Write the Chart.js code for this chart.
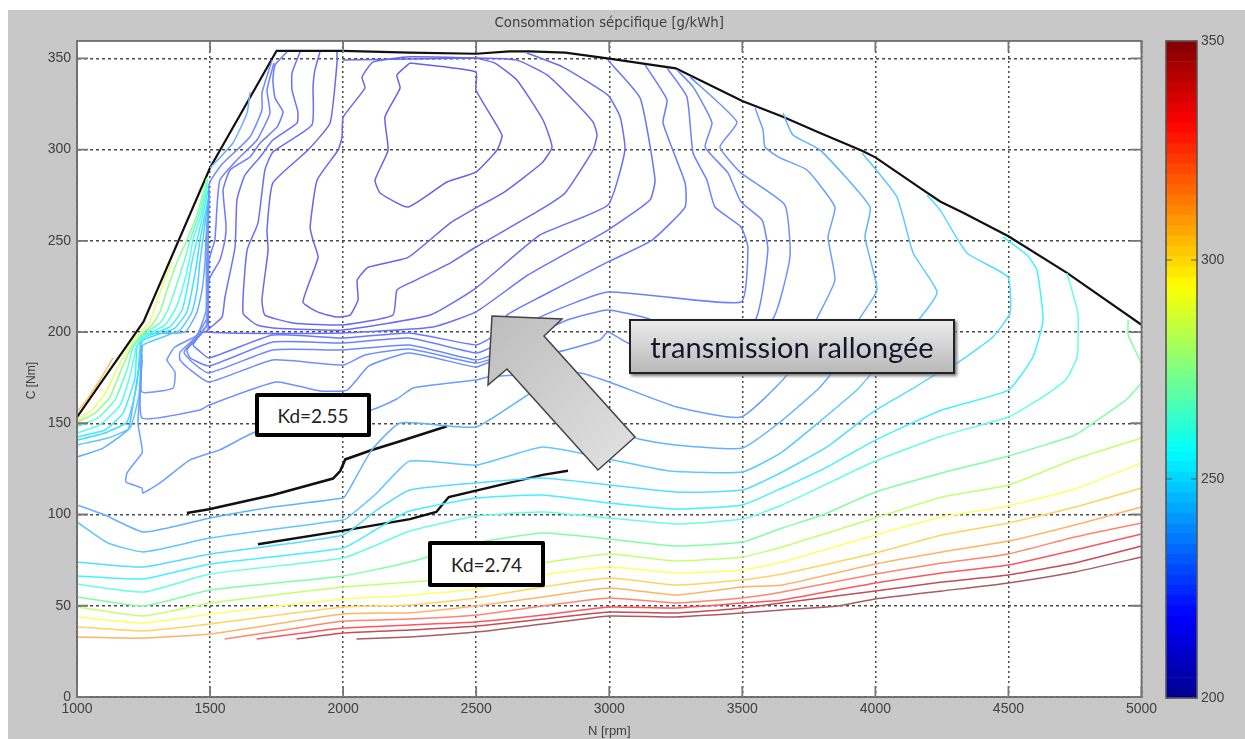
<!DOCTYPE html>
<html><head><meta charset="utf-8">
<style>
html,body{margin:0;padding:0;background:#fff;width:1245px;height:739px;overflow:hidden}
#fig{position:absolute;left:8px;top:10px;width:1237px;height:729px;background:#c8c8c8}
canvas{position:absolute;filter:blur(.4px)}
.kd{position:absolute;box-sizing:border-box;background:#fff;border:4px solid #000;border-radius:2px;font:19px Lato,sans-serif;color:#222;display:flex;align-items:center;justify-content:center}
#tr{position:absolute;left:629px;top:319px;width:326px;height:55px;box-sizing:border-box;border:2px solid #222;background:linear-gradient(#ececec,#b9b9b9);box-shadow:2px 2px 3px #777;font:29px Lato,sans-serif;color:#15152b;display:flex;align-items:center;justify-content:center;white-space:nowrap}
svg{position:absolute;left:0;top:0}
</style></head><body>
<div id="fig"></div>
<canvas id="main" width="1245" height="739" style="left:0;top:0;width:1245px;height:739px"></canvas>
<canvas id="cbar" width="85" height="739" style="left:1160px;top:0;width:85px;height:739px"></canvas>
<svg width="1245" height="739"><defs><linearGradient id="g" x1="0" y1="0" x2="1" y2="1"><stop offset="0" stop-color="#bdbdbd"/><stop offset="1" stop-color="#e2e2e2"/></linearGradient></defs>
<polygon points="492,316 562,319 544,336 635,437 598,470 507,369 488,385" fill="url(#g)" stroke="#444" stroke-width="1.5"/></svg>
<div class="kd" style="left:255px;top:393px;width:116px;height:44px">Kd=2.55</div>
<div class="kd" style="left:428px;top:541px;width:117px;height:46px">Kd=2.74</div>
<div id="tr">transmission rallongée</div>
<script src="https://cdn.jsdelivr.net/npm/chart.js@4"></script>
<script>
const xTicks=[1000,1500,2000,2500,3000,3500,4000,4500,5000];
const yTicks=[0,50,100,150,200,250,300,350];
const cbTicks=[200,250,300,350];

const A_N=[2050,2250,2500,2750,3000,3250,3500,3650,3860,4000,4250,4500,4750,5000];
const A_C=[31.8,32.9,35.6,40,44.4,43.8,46,47.7,49.9,53.7,58.1,62.5,68.5,76.7];
const B_N=[1825,2000,2250,2500,2750,3000,3250,3500,4000,4250,4500,4750,5000];
const B_C=[31.8,35.1,36.7,38.9,42.7,46.6,46,48.8,58.1,63,66.9,73.4,82.7];
const C_N=[1675,1850,2000,2250,2500,2750,3000,3250,3500,3650,4000,4250,4500,4750,5000];
const C_C=[31.8,35.1,37.8,39.5,41.1,44.9,49.3,48.8,51.5,53.2,62.5,68,72.3,80.6,89.3];
const D_N=[1555,1780,2000,2250,2500,2750,3000,3250,3500,3650,4000,4250,4500,4750,5000];
const D_C=[31.8,36.7,41.6,42.7,44.9,49.9,54.3,51.5,54.3,57.5,67.4,73.4,78.4,87.7,95.4];
const E_N=[1000,1170,1250,1500,2000,2250,2500,2750,3000,3250,3500,3650,4000,4250,4500,4750,5000];
const E_C=[32.9,32.3,32.3,34.5,45.5,46.2,49.9,54.8,59.7,55.9,60.3,61.4,72.9,79.5,85.5,94.3,104.1];
const F_N=[1000,1250,1500,2000,2250,2500,2750,3000,3250,3500,3650,4000,4250,4500,4750,5000];
const F_C=[38.4,36.2,40,49.3,50.4,54.3,60.3,65.2,61.4,64.1,67.4,78.9,88.8,95.4,104.1,114.5];
const G_N=[1000,1250,1500,2000,2220,2500,2750,3000,3250,3500,3650,4000,4250,4500,4750,5000];
const G_C=[43.8,40.6,45.5,53.7,55.3,59.2,66.9,71.2,68,69.6,74,88.8,98.6,104.7,114,128.2];
const H_N=[1000,1250,1500,2000,2250,2500,2750,3000,3250,3500,3650,4000,4250,4500,4750,5000];
const H_C=[49.3,44.4,51.5,60.3,63,65.8,73.4,78.4,74.5,76.7,82.2,98.1,109.6,116.2,130.4,141.9];
const I_N=[1000,1250,1500,2000,2250,2500,2750,3000,3250,3500,3650,3800,4000,4250,4500,4750,4845,4942,5000];
const I_C=[54.8,49.9,58.6,66.3,74,84.4,89.9,86.6,82.7,84.9,92.6,99.7,112.3,122.8,132.1,143.6,152.9,162.8,172.1];
const I2_N=[5000,4950,4950];
const I2_C=[183,198.4,206.6];
const J_N=[1000,1250,1500,2000,2125,2250,2500,2750,3000,3250,3500,3650,4000,4250,4500,4592,4667,4720,4758,4761,4720];
const J_C=[61.9,57.5,67.4,76.2,83.3,91,99.2,101.4,98.1,94.8,97.5,105.2,129.3,143,153.4,161,168.2,174.7,186.2,210.3,232.2];
const K_N=[1000,1250,1500,2000,2120,2240,2500,2750,3000,3250,3500,3650,3818,4000,4250,4500,4592,4630,4607,4570,4480];
const K_C=[66.3,64.7,72.9,81.7,91.5,101.4,109,110.7,106.3,103,105.2,114.5,126,140.8,157.3,168.2,186.3,206.6,234,242.2,252.1];
const K2_N=[1000,1250,1500,2000,2127,2250,2500,2750,3000,3250,3500,3650,3818,3991,4130,4224,4307,4442,4506,4498,4344,4243,4194];
const K2_C=[74,71.2,78.4,88.8,102.5,113.4,117.3,120,116.2,112.3,113.4,123.3,137,156.2,168.2,176.5,183,197.3,210.4,230.2,243.3,266.9,275.1];
const L_N=[1000,1116,1250,1500,2000,2015,2127,2250,2500,2750,3014,3228,3500,3650,3931,3980,4168,4232,4142,4081,3950];
const L_C=[95.9,84.4,79.5,87.1,97,98.1,111.8,129.3,127.1,137,129.9,123.8,123.3,134.3,168.2,176.5,207.7,221.9,243.3,274,298.1];
const M_N=[1000,1105,1250,1500,1736,2000,2015,2108,2214,2500,2706,2871,3090,3250,3500,3642,3781,3830,3942,4006,3961,3980,3792,3690,3653];
const M_C=[105.2,99.7,90.4,98.1,104.1,109,111.8,135.4,150.2,148,166.6,176.5,142.5,138.1,136.4,150.7,168.2,176.5,207.7,223,252.1,268.5,299.8,308,320];
const Q_N=[1244,1240,1229,1244,1244,1188,1184,1244,1248,1312,1425,1537,1669,1838,2108,2202,2263,2499,2544,2890,3000,3254,3495,3668,3781,3848,3822,3848,3743,3642,3585,3578,3548];
const Q_C=[192.9,173.7,150.2,137,133.7,122.8,117.8,114.5,111.8,117.3,129.9,135.4,145.2,149.1,157.3,163.3,169.3,173.7,175.4,177.6,172.6,158.9,153.4,176.5,207.7,228.5,252.1,268.5,288.8,295.4,301.4,310.7,322.8];
const R_N=[1244,1244,1462,1496,1748,1913,2015,2097,2248,2499,2552,2804,2965,2995,3070,3341,3612,3679,3660,3495,3416,3480,3303];
const R_C=[187.4,152.9,157.3,160,172.6,167.7,168.2,181.4,188.5,180.8,183.6,189,195.6,200,194,184.7,206.6,241.1,269.6,287.2,301.4,315.1,339.8];
const S_N=[1244,1244,1361,1368,1338,1368,1451,1485,1485,1492,1496];
const S_C=[184.7,167.1,169.3,178.1,184.7,191.8,198.4,212.1,250.4,266.9,276.7];
const T_N=[1496,1492,1488,1443,1387,1387,1417,1496,1736,2000,2082,2248,2499,2570];
const T_C=[277.8,244.9,207.7,196.7,189,184.7,180.3,172.6,184.7,181.9,187.4,190.7,183,185.8];
const P8_N=[1733,1695,1695,1650,1549,1511,1496,1492,1488,1451,1402,1432,1496,1736,2000,2248,2499,2552,2842,2995,3138,3341,3548,3596,3574,3495,3446,3360,3386,3315,3255];
const P8_C=[349,331,321.7,306.9,292.6,285,280.6,239.5,203.9,197.3,189,183.6,177.6,190.2,190.2,192.9,184.7,186.9,206.6,212.1,207.7,198.4,206.6,244.9,261.4,271.3,287.2,301.4,314.6,334.3,343.6];
const P7_N=[1740,1714,1725,1676,1601,1537,1526,1518,1496,1488,1455,1413,1425,1496,1736,2000,2248,2499,2552,2740,2995,3495,3521,3495,3397,3367,3315,3292,3217];
const P7_C=[347.4,332.6,320,305.2,294.3,283.3,268.5,250.4,239.5,203.9,197.3,190.2,185.8,181.4,194.5,194,196.7,188.5,191.3,208.2,221.9,216.5,246.6,257.6,268.5,283.3,298.1,328.8,344.7];
const P6_N=[1789,1744,1736,1744,1774,1752,1688,1650,1575,1549,1560,1556,1537,1496,1492,1470,1436,1455,1496,1736,2000,2248,2499,2552,2616,2740,2995,3161,3285,3285,3202,3217,3135];
const P6_C=[353.5,346.3,338.1,328.2,320.6,312.4,303.6,295.9,288.8,277.8,258.7,250.4,239.5,228.5,201.1,199.5,192.9,190.2,185.8,198.4,196.7,199.5,192.9,196.7,209.3,219.2,238.4,250.4,268.5,281.7,314.6,327.2,346.3];
const P5_N=[1838,1808,1808,1830,1827,1736,1688,1631,1601,1594,1556,1545,1488,2000,2338,2499,2695,2995,3153,3172,3116,2995];
const P5_C=[353.5,342,332.6,320.6,314.6,305.2,295.9,286,272.4,246.6,219.2,208.2,200,199.5,202.8,211,231.3,255.9,272.4,283.3,328.2,349];
const P4_N=[1913,1894,1887,1883,1736,1706,1680,1639,1624,1676,1736,2000,2327,2499,2740,2995,3059,3041,2995,2826,2691];
const P4_C=[353.5,343.6,334.3,313.5,298.6,288.8,259.7,244.9,210.4,203.9,202.2,201.1,209.3,224.1,253.2,269.6,299.7,317.8,329.8,345.2,352.9];
const P3_N=[1977,1977,1951,1868,1736,1714,1718,1695,1706,1812,2000,2187,2202,2251,2402,2499,2740,2834,2939,2954,2939,2853,2766,2653,2499,2000];
const P3_C=[353.5,347.4,314.6,299.7,281.7,255.9,244.9,217.6,209.3,205,203.9,209.3,223,226.9,237.8,246.6,266.9,276.2,299.7,308,315.1,328.8,340.9,349,350.2,349];
const P2_N=[2499,2570,2653,2751,2785,2747,2601,2499,2402,2244,2094,2053,2056,2026,1977,1906,1849,1906,1887,1876,1902,1981,1996,2000,2082,2071,2112,2251,2499];
const P2_C=[350.2,347.4,338.1,316.2,301.4,292.6,276.2,268,259.7,240.9,235.5,228.5,217.6,209.3,208.2,210.9,216.4,240.9,250.2,257.4,283.2,299.7,306.8,317.7,333.7,339.7,347.9,350.8,350.2];
const P1_N=[2251,2499,2499,2597,2578,2499,2390,2244,2139,2120,2169,2157,2214,2202,2251];
const P1_C=[347.4,342.5,332.6,307.9,299.7,287.6,282.2,268.5,276.2,283.3,299.7,317.8,333.7,340.8,347.4];
const U1_N=[1650,1639,1586,1500];
const U1_C=[331.5,320,303.6,289.9];
const F1_N=[1000,1041,1086,1135];
const F1_C=[156.2,163.8,173.7,185.7];
const F2_N=[1000,1056,1109,1154,1188,1218,1274,1301,1357];
const F2_C=[151.8,157.3,167.1,180.8,190.1,196.7,205.5,217.6,238.4];
const F3_N=[1000,1068,1124,1169,1203,1237,1282,1312,1338,1376,1413,1451,1488];
const F3_C=[150.7,155.6,164.4,180.3,191.3,197.8,203.9,211,223,238.4,250.4,264.1,284.4];
const F4_N=[1000,1079,1143,1188,1210,1248,1312,1342,1368,1402,1425,1458,1492];
const F4_C=[148,152.9,162.8,179.2,191.3,198.4,205,212.1,223,238.4,250.4,264.1,283.3];
const F5_N=[1000,1086,1162,1203,1222,1248,1331,1368,1395,1421,1436,1466,1492];
const F5_C=[144.7,149.1,160,178.1,191.3,197.3,203.9,212.1,223,238.4,250.4,264.1,280.6];
const F6_N=[1000,1105,1173,1218,1225,1248,1349,1395,1413,1432,1451,1473,1492];
const F6_C=[142.5,146.3,155.6,174.8,191.3,196.7,202.8,212.1,223,238.4,250.4,264.1,277.8];
const F7_N=[1000,1105,1188,1225,1237,1248,1368,1413,1432,1451,1462,1481,1496];
const F7_C=[140.8,144.7,150.7,171,191.3,195.6,202.2,211,223,238.4,250.4,264.1,275.1];
const F8_N=[1000,1116,1199,1233,1240,1248,1387,1432,1451,1462,1473,1485,1496];
const F8_C=[138.1,141.9,147.4,165.5,184.7,192.9,201.1,211,223,238.4,250.4,264.1,272.4];
const F9_N=[1000,1098,1192,1199,1237,1244,1406,1451,1470,1481,1485,1492,1496];
const F9_C=[131.5,136.4,146.3,150.2,184.7,198.4,200,211,223,238.4,250.4,264.1,269.6];

const limit_N=[1000,1250,1500,1750,2000,2250,2500,2625,2700,2835,3000,3250,3500,3650,3790,3950,4000,4180,4245,4330,4500,4720,5000];
const limit_C=[153.4,205.7,290,354.1,354.1,353.1,352.5,353.8,353.8,353.1,349.8,344.5,326.6,318.1,309.2,299.3,295.7,277.8,271.4,265.4,252.5,232.4,204];
const kd255_N=[1413,1496,1736,1962,1989,2008,2108,2214,2390];
const kd255_C=[100.8,102.9,110.7,119.7,123.8,130.2,135.4,140.2,148.4];
const kd274_N=[1680,1989,2251,2350,2397,2750,2845];
const kd274_C=[83.7,90.9,97.5,101.4,109.6,121.7,124];

const contours=[
 [A_N,A_C,'#a85c60'],[B_N,B_C,'#c54b58'],[C_N,C_C,'#ff5560'],[D_N,D_C,'#ff8570'],
 [E_N,E_C,'#ffb366'],[F_N,F_C,'#ffd35c'],[G_N,G_C,'#ffff66'],[H_N,H_C,'#c4ff70'],
 [I_N,I_C,'#80ffa6'],[I2_N,I2_C,'#80ffa6'],[J_N,J_C,'#66ffe0'],[K_N,K_C,'#45f0ff'],[K2_N,K2_C,'#55ddff'],
 [L_N,L_C,'#5cc8ff'],[M_N,M_C,'#62b2ff'],[Q_N,Q_C,'#6a9eff'],[R_N,R_C,'#6c90ff'],[S_N,S_C,'#6c98ff'],
 [T_N,T_C,'#6c90ff'],[P8_N,P8_C,'#6c88ff'],[P7_N,P7_C,'#6c80ff'],[P6_N,P6_C,'#6a78ff'],[P5_N,P5_C,'#6a70fa'],
 [P4_N,P4_C,'#6a6cf5'],[P3_N,P3_C,'#6a68f0'],[P2_N,P2_C,'#6a64ee'],[P1_N,P1_C,'#6a60ea'],[U1_N,U1_C,'#6ab0ff'],
 [F1_N,F1_C,'#ffc060'],[F2_N,F2_C,'#eaff66'],[F3_N,F3_C,'#90ff90'],[F4_N,F4_C,'#66ffcc'],[F5_N,F5_C,'#55ffee'],
 [F6_N,F6_C,'#44eeff'],[F7_N,F7_C,'#44ddff'],[F8_N,F8_C,'#55ccff'],[F9_N,F9_C,'#60b0ff']
];
const toXY=(n,c)=>n.map((v,i)=>({x:v,y:c[i]}));
const contourSets=contours.map(([n,c,col])=>({data:toXY(n,c),borderColor:col,borderWidth:1.5,pointRadius:0,showLine:true,tension:.15,fill:false}));
const blackSets=[[limit_N,limit_C,2.2],[kd255_N,kd255_C,2.6],[kd274_N,kd274_C,2.4]].map(([n,c,w])=>({data:toXY(n,c),borderColor:'#111',borderWidth:w,pointRadius:0,showLine:true,tension:0,fill:false}));

const tickFont={family:'"Liberation Sans",Arial,sans-serif',size:14};
const txt='#404040';
const frame={id:'frame',
 beforeDraw(ch){const a=ch.chartArea,c=ch.ctx;c.save();c.fillStyle='#fff';c.fillRect(a.left,a.top,a.right-a.left,a.bottom-a.top);c.restore();},
 afterDraw(ch){const a=ch.chartArea,c=ch.ctx,X=ch.scales.x,Y=ch.scales.y;c.save();c.strokeStyle='#6e6e6e';c.lineWidth=1.8;c.strokeRect(a.left,a.top,a.right-a.left,a.bottom-a.top);
  c.lineWidth=1.8;c.strokeStyle='#777';c.beginPath();
  xTicks.forEach(v=>{const p=X.getPixelForValue(v);c.moveTo(p,a.bottom);c.lineTo(p,a.bottom-11);c.moveTo(p,a.top);c.lineTo(p,a.top+11);});
  yTicks.forEach(v=>{const p=Y.getPixelForValue(v);c.moveTo(a.left,p);c.lineTo(a.left+11,p);c.moveTo(a.right,p);c.lineTo(a.right-11,p);});
  c.stroke();c.restore();}};

new Chart(document.getElementById('main'),{type:'scatter',plugins:[frame],
 data:{datasets:[...contourSets,...blackSets]},
 options:{responsive:false,animation:false,events:[],
  layout:{padding:{left:0,right:103.5,top:0,bottom:0}},
  plugins:{legend:{display:false},tooltip:{enabled:false},
   title:{display:true,fullSize:false,text:'Consommation sépcifique [g/kWh]',color:txt,font:{family:'"DejaVu Sans",sans-serif',size:13.3,lineHeight:1.2,weight:'normal'},padding:{top:16,bottom:9}}},
  scales:{
   x:{type:'linear',min:1000,max:5000,afterFit(s){s.height=42;},
      ticks:{stepSize:500,color:txt,font:tickFont,padding:4,maxRotation:0,includeBounds:false,callback:v=>String(v)},
      grid:{color:'#4a4a4a',lineWidth:1.5,tickLength:0,drawTicks:false},border:{dash:[2,3],color:'#6e6e6e'},
      title:{display:true,text:'N [rpm]',color:txt,font:{family:tickFont.family,size:13},padding:{top:0,bottom:0}}},
   y:{type:'linear',min:0,max:359.5,afterFit(s){s.width=77;},
      ticks:{stepSize:50,color:txt,font:tickFont,padding:6,includeBounds:false,callback:v=>String(v)},
      grid:{color:'#4a4a4a',lineWidth:1.5,tickLength:0,drawTicks:false},border:{dash:[3,3],color:'#6e6e6e'},
      title:{display:true,text:'C [Nm]       ',color:txt,font:{family:tickFont.family,size:12},padding:{top:24,bottom:0}}}
  }}});

// colour bar (64-step jet map)
const jetStops=[[0,0,143],[0,0,255],[0,255,255],[255,255,0],[255,0,0],[128,0,0]];
const jetPos=[0,.125,.375,.625,.875,1];
function jet(t){let i=0;while(i<4&&t>jetPos[i+1])i++;const f=(t-jetPos[i])/(jetPos[i+1]-jetPos[i]);const a=jetStops[i],b=jetStops[i+1];return `rgb(${a.map((v,k)=>Math.round(v+(b[k]-v)*f)).join(',')})`;}
const cbLow=cbTicks[0],cbHigh=cbTicks[cbTicks.length-1],cbSteps=64;
const cbSets=[];
for(let i=0;i<cbSteps;i++){const lo=cbLow+(cbHigh-cbLow)*i/cbSteps,hi=cbLow+(cbHigh-cbLow)*(i+1)/cbSteps;
 cbSets.push({data:[[lo,hi]],backgroundColor:jet((i+.5)/cbSteps),borderWidth:0,barPercentage:1,categoryPercentage:1,stack:'c'});}
const cbFrame={id:'cbFrame',afterDraw(ch){const a=ch.chartArea,c=ch.ctx,Y=ch.scales.y;c.save();c.strokeStyle='#555';c.lineWidth=1.6;c.strokeRect(a.left,a.top,a.right-a.left,a.bottom-a.top);c.lineWidth=1;c.beginPath();
 cbTicks.forEach(v=>{const p=Y.getPixelForValue(v);c.moveTo(a.left,p);c.lineTo(a.left+6,p);c.moveTo(a.right,p);c.lineTo(a.right-6,p);});c.stroke();c.restore();}};
new Chart(document.getElementById('cbar'),{type:'bar',plugins:[cbFrame],
 data:{labels:[''],datasets:cbSets},
 options:{responsive:false,animation:false,events:[],
  layout:{padding:{left:6,right:0,top:41,bottom:41}},
  plugins:{legend:{display:false},tooltip:{enabled:false},title:{display:false}},
  scales:{x:{display:false,stacked:true},
   y:{position:'right',min:200,max:350,stacked:false,afterFit(s){s.width=48;},
      ticks:{stepSize:50,color:txt,font:tickFont,padding:4,callback:v=>String(v)},
      grid:{display:false,drawTicks:false,tickLength:0},border:{display:false}}}}});
</script>
</body></html>
